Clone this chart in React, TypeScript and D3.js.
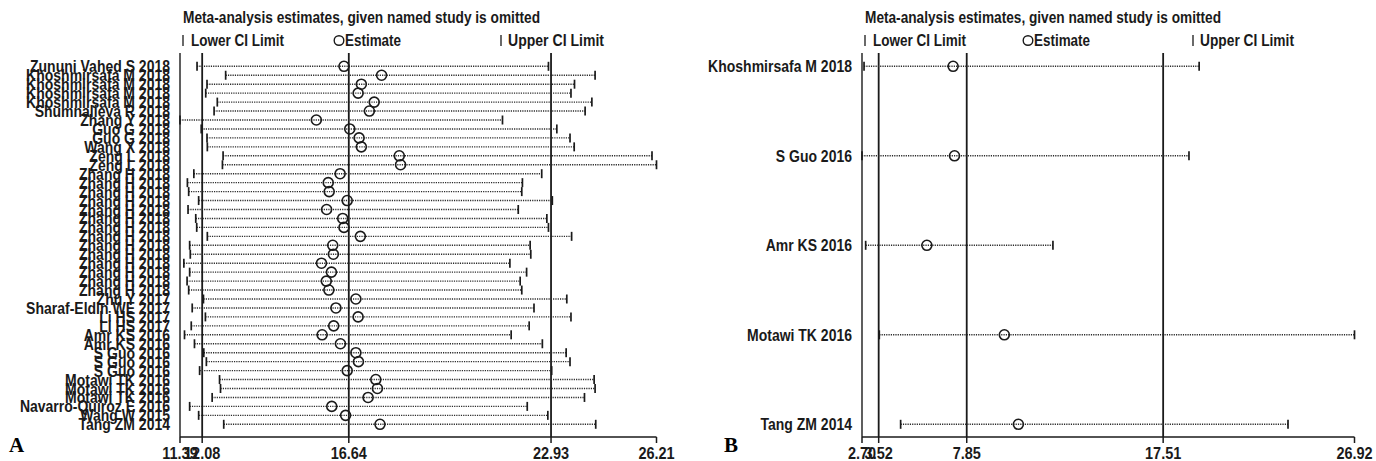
import React from "react";
import * as d3 from "d3";

// panel A: every study omitted in turn (41 rows)
const studiesA = [
  "Zununi Vahed S 2018",
  "Khoshmirsafa M 2018",
  "Khoshmirsafa M 2018",
  "Khoshmirsafa M 2018",
  "Khoshmirsafa M 2018",
  "Shumnalieva R 2018",
  "Zhang Y 2018",
  "Guo G 2018",
  "Guo G 2018",
  "Wang X 2018",
  "Zeng L 2018",
  "Zeng L 2018",
  "Zhang H 2018",
  "Zhang H 2018",
  "Zhang H 2018",
  "Zhang H 2018",
  "Zhang H 2018",
  "Zhang H 2018",
  "Zhang H 2018",
  "Zhang H 2018",
  "Zhang H 2018",
  "Zhang H 2018",
  "Zhang H 2018",
  "Zhang H 2018",
  "Zhang H 2018",
  "Zhang H 2018",
  "Zhu Y 2017",
  "Sharaf-Eldin WE 2017",
  "Li HS 2017",
  "Li HS 2017",
  "Amr KS 2016",
  "Amr KS 2016",
  "S Guo 2016",
  "S Guo 2016",
  "S Guo 2016",
  "Motawi TK 2016",
  "Motawi TK 2016",
  "Motawi TK 2016",
  "Navarro-Quiroz E 2016",
  "Wang W 2015",
  "Tang ZM 2014",
];
const lowerA = [
  11.92, 12.81, 12.23, 12.19, 12.55, 12.45, 11.39, 12.05, 12.23, 12.24, 12.73,
  12.71, 11.82, 11.62, 11.66, 11.97, 11.64, 11.88, 11.91, 12.24, 11.69, 11.71,
  11.51, 11.69, 11.61, 11.66, 12.12, 11.77, 12.18, 11.74, 11.53, 11.84, 12.13,
  12.21, 12.0, 12.62, 12.65, 12.39, 11.69, 11.97, 12.75,
];
const estA = [
  16.49, 17.66, 17.03, 16.93, 17.43, 17.28, 15.63, 16.67, 16.96, 17.03, 18.21,
  18.25, 16.37, 16.0, 16.03, 16.59, 15.95, 16.45, 16.49, 17.0, 16.14, 16.16,
  15.79, 16.1, 15.94, 16.02, 16.86, 16.24, 16.93, 16.17, 15.81, 16.38, 16.86,
  16.94, 16.59, 17.48, 17.53, 17.24, 16.11, 16.54, 17.61,
];
const upperA = [
  22.85, 24.3, 23.66, 23.55, 24.2, 23.99, 21.42, 23.11, 23.52, 23.65, 26.07,
  26.21, 22.64, 22.04, 22.02, 22.97, 21.91, 22.8, 22.85, 23.57, 22.28, 22.3,
  21.65, 22.17, 21.97, 22.02, 23.42, 22.4, 23.55, 22.25, 21.69, 22.66, 23.4,
  23.52, 22.95, 24.27, 24.3, 23.97, 22.19, 22.83, 24.32,
];
// min, pooled lower CI, pooled estimate, pooled upper CI, max
const ticksA = [11.39, 12.08, 16.64, 22.93, 26.21];

// panel B
const studiesB = [
  "Khoshmirsafa M 2018",
  "S Guo 2016",
  "Amr KS 2016",
  "Motawi TK 2016",
  "Tang ZM 2014",
];
const lowerB = [2.8, 2.7, 2.88, 3.55, 4.6];
const estB = [7.18, 7.25, 5.89, 9.7, 10.39];
const upperB = [19.28, 18.78, 12.09, 26.92, 23.65];
const ticksB = [2.7, 3.52, 7.85, 17.51, 26.92];

const title = "Meta-analysis estimates, given named study is omitted";
const sans = "'Liberation Sans', Arial, sans-serif";
const ink = "#1a1a1a";

const TOP = 53;
const AXIS_Y = 437;
const ROW_TOP = 66.3;
const ROW_BOTTOM = 424.3;

// the source figure is stretched vertically, so the text is too
function SText({ x, y, sx = 1, sy = 1.22, size = 14, anchor = "start", width, children }) {
  return (
    <text
      transform={`translate(${x},${y}) scale(${sx},${sy})`}
      textAnchor={anchor}
      fontFamily={sans}
      fontWeight="bold"
      fontSize={size}
      fill={ink}
      textLength={width}
      lengthAdjust={width ? "spacingAndGlyphs" : undefined}
    >
      {children}
    </text>
  );
}

function Panel({ studies, lower, est, upper, ticks, x0, x1, letter, letterX, legend }) {
  const x = d3.scaleLinear().domain([ticks[0], ticks[4]]).range([x0, x1]);
  const y = d3
    .scalePoint()
    .domain(studies.map((_, i) => String(i)))
    .range([ROW_TOP, ROW_BOTTOM]);
  const fmt = d3.format(".2f");
  const capH = 4.5;
  const tx = x0 + 3;

  return (
    <g>
      {/* header */}
      <SText x={tx} y={23} size={13.5} width={legend.titleW}>
        {title}
      </SText>
      <line x1={tx} x2={tx} y1={35} y2={46} stroke={ink} strokeWidth={1.3} />
      <SText x={tx + 8} y={46} size={13.5} width={93}>
        Lower CI Limit
      </SText>
      <circle cx={tx + legend.est} cy={40.5} r={4.8} fill="none" stroke={ink} strokeWidth={1.4} />
      <SText x={tx + legend.est + 6} y={46} size={13.5} width={56}>
        Estimate
      </SText>
      <line x1={tx + legend.up} x2={tx + legend.up} y1={35} y2={46} stroke={ink} strokeWidth={1.3} />
      <SText x={tx + legend.up + 7} y={46} size={13.5} width={legend.upW}>
        Upper CI Limit
      </SText>

      {/* frame line on the left and the pooled reference lines */}
      <line x1={x0} x2={x0} y1={TOP} y2={AXIS_Y} stroke={ink} strokeWidth={1.4} />
      {ticks.slice(1, 4).map((t, i) => (
        <line key={"ref" + i} x1={x(t)} x2={x(t)} y1={TOP} y2={AXIS_Y} stroke={ink} strokeWidth={1.8} />
      ))}

      {/* study rows */}
      {studies.map((s, i) => {
        const yy = y(String(i));
        return (
          <g key={i}>
            <SText x={x0 - 10} y={yy + 6} anchor="end">
              {s}
            </SText>
            <line
              x1={x(lower[i])}
              x2={x(upper[i])}
              y1={yy}
              y2={yy}
              stroke="#2a2a2a"
              strokeWidth={1.4}
              strokeDasharray="1.2 1.1"
            />
            <line x1={x(lower[i])} x2={x(lower[i])} y1={yy - capH} y2={yy + capH} stroke={ink} strokeWidth={1.7} />
            <line x1={x(upper[i])} x2={x(upper[i])} y1={yy - capH} y2={yy + capH} stroke={ink} strokeWidth={1.7} />
            <circle cx={x(est[i])} cy={yy} r={5} fill="none" stroke={ink} strokeWidth={1.6} />
          </g>
        );
      })}

      {/* x axis */}
      <line x1={x0} x2={x1} y1={AXIS_Y} y2={AXIS_Y} stroke={ink} strokeWidth={1.5} />
      {ticks.map((t, i) => (
        <g key={"t" + i}>
          <line x1={x(t)} x2={x(t)} y1={AXIS_Y} y2={AXIS_Y + 6} stroke={ink} strokeWidth={1.5} />
          <SText x={x(t)} y={459} anchor="middle" size={14.5} sy={1.2}>
            {fmt(t)}
          </SText>
        </g>
      ))}

      <text
        x={letterX}
        y={452}
        fontFamily="'Liberation Serif', 'Times New Roman', serif"
        fontWeight="bold"
        fontSize={21}
        fill="#000"
      >
        {letter}
      </text>
    </g>
  );
}

export default function App() {
  return (
    <svg width={1376} height={461} style={{ position: "absolute", left: 0, top: 0, background: "#fff" }}>
      <rect width={1376} height={461} fill="#fff" />
      <Panel
        studies={studiesA}
        lower={lowerA}
        est={estA}
        upper={upperA}
        ticks={ticksA}
        x0={180}
        x1={656.5}
        letter="A"
        letterX={9}
        legend={{ titleW: 357, est: 156, up: 318, upW: 96 }}
      />
      <Panel
        studies={studiesB}
        lower={lowerB}
        est={estB}
        upper={upperB}
        ticks={ticksB}
        x0={862}
        x1={1354.5}
        letter="B"
        letterX={724}
        legend={{ titleW: 356, est: 163, up: 328, upW: 94 }}
      />
    </svg>
  );
}
